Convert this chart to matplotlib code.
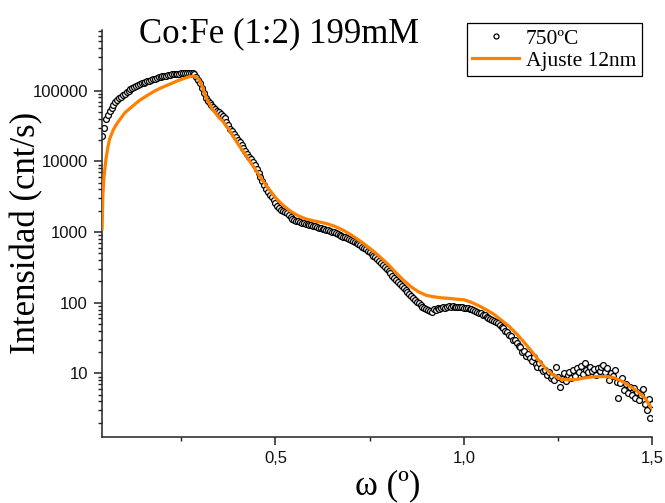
"""Reflectividad de rayos X: Co:Fe (1:2) 199mM con ajuste de 12 nm."""

import matplotlib
matplotlib.use('Agg')
import matplotlib.pyplot as plt
import numpy as np
from matplotlib.ticker import FixedLocator, LogLocator, NullFormatter

# Medida (omega de 0.040 a 1.500 grados, paso 0.005)
scan_start = 0.040
scan_step = 0.005
counts = [
    23050, 29920, 39480, 45710, 52100, 57430, 63340, 68740, 73380, 78300,
    82220, 86370, 90700, 95240, 100000, 105000, 109200, 112800, 116600, 119700,
    123200, 126500, 129800, 132800, 135400, 138500, 141800, 145000, 147900, 150800,
    153300, 156400, 158900, 161000, 163100, 165200, 167400, 169000, 170700, 171800,
    173000, 174100, 175300, 176400, 177000, 177600, 177600, 177600, 177000, 174100,
    155300, 143200, 127700, 110300, 92180, 79600, 72190, 66520, 62100, 58300,
    54900, 51900, 49200, 46500, 43700, 40300, 36380, 32460, 28950, 26700,
    24200, 22300, 20230, 18650, 17190, 15580, 14130, 12810, 11620, 10710,
    9870, 8810, 7860, 6896, 6050, 5313, 4662, 4092, 3650, 3365,
    3152, 2858, 2550, 2312, 2166, 2063, 1965, 1901, 1841, 1724,
    1616, 1538, 1489, 1441, 1418, 1395, 1359, 1337, 1315, 1294,
    1273, 1244, 1224, 1204, 1177, 1154, 1136, 1110, 1092, 1074,
    1054, 1030, 1006, 990, 974, 943, 913, 884, 861, 841,
    814, 788, 763, 738, 715, 692, 669, 648, 617, 588,
    569, 542, 516, 491, 460, 438, 417, 391, 366, 343,
    321, 301, 282, 260, 240, 224, 210, 197, 185, 173,
    162, 152, 142, 133, 123, 117, 110, 103, 98, 93,
    87.2, 84.4, 81.7, 79.1, 76.6, 74.1, 80.4, 79.1, 83.0, 80.4,
    84.4, 85.8, 83.0, 87.2, 88.6, 87.2, 88.6, 87.2, 87.8, 87.2,
    85.8, 86.6, 84.4, 84.4, 83.0, 80.4, 80.4, 77.8, 75.4, 74.1,
    71.7, 70.6, 67.2, 66.1, 62.9, 59.9, 58.9, 56.2, 55.2, 52.6,
    50.9, 48.5, 45.4, 43.3, 39.9, 38.6, 35.0, 33.9, 29.7, 29.2,
    26.9, 24.4, 23.7, 20.1, 20.8, 17.6, 18.8, 16.5, 15.0, 17.1,
    13.6, 12.3, 14.0, 11.9, 10.8, 11.2, 9.5, 10.5, 8.6, 9.2,
    8.1, 12.5, 8.9, 6.5, 8.3, 10.1, 7.8, 9.5, 10.6, 8.6,
    11.2, 9.2, 11.9, 10.5, 12.7, 9.8, 13.8, 11.2, 10.5, 12.3,
    10.8, 11.5, 9.5, 11.9, 10.8, 12.3, 13.2, 10.5, 11.9, 8.1,
    10.1, 9.2, 11.2, 7.6, 4.5, 7.3, 8.6, 5.8, 7.1, 5.3,
    6.4, 4.9, 6.2, 4.5, 5.5, 4.2, 4.9, 6.0, 3.7, 3.0,
    4.3, 2.3, 3.7,
]

# Ajuste 12nm
fit_x = [
    0.040, 0.042, 0.045, 0.050, 0.055, 0.060, 0.070, 0.080, 0.090, 0.100,
    0.110, 0.120, 0.140, 0.160, 0.180, 0.200, 0.220, 0.240, 0.260, 0.270,
    0.280, 0.285, 0.290, 0.295, 0.300, 0.305, 0.310, 0.315, 0.320, 0.330,
    0.340, 0.350, 0.360, 0.370, 0.380, 0.390, 0.400,
    0.42, 0.44, 0.46, 0.48, 0.50, 0.52, 0.54, 0.56, 0.58, 0.60,
    0.62, 0.64, 0.66, 0.68, 0.70, 0.72, 0.74, 0.76, 0.78, 0.80,
    0.82, 0.84, 0.86, 0.88, 0.90, 0.92, 0.94, 0.96, 0.98, 1.00,
    1.02, 1.04, 1.06, 1.08, 1.10, 1.12, 1.14, 1.16, 1.18, 1.20,
    1.22, 1.24, 1.26, 1.28, 1.30, 1.32, 1.34, 1.36, 1.38, 1.40,
    1.42, 1.44, 1.46, 1.48, 1.50,
]
fit_y = [
    1110, 3365, 6050, 10540, 15600, 20700, 28120, 34650, 40920, 48310,
    53810, 59740, 73110, 85500, 99000, 111500, 123600, 137500, 150400, 156400,
    159500, 159500, 155300, 147900, 134100, 115800, 96800, 82200, 72200, 57400,
    48800, 41460, 36980, 31430, 26260, 21600, 17760,
    12400, 8660, 5955, 4227, 3051, 2389, 1965, 1696, 1538, 1441,
    1372, 1294, 1185, 1057, 913, 775, 648, 533, 431, 343,
    264, 207, 167, 142, 127, 121, 117, 115, 112, 110,
    101, 90.1, 79.1, 68.3, 56.2, 46.2, 36.1, 27.4, 20.4, 15.0,
    11.2, 9.2, 8.2, 8.1, 8.2, 8.6, 8.9, 9.0, 9.0, 8.6,
    7.7, 6.6, 5.6, 4.5, 3.1,
]

y_ticks = [10, 100, 1000, 10000, 100000]
y_labels = ['10', '100', '1000', '10000', '100000']
x_ticks = [0.5, 1.0, 1.5]
x_labels = ['0,5', '1,0', '1,5']
x_minor = [0.25, 0.75, 1.25]


def main():
    """Dibuja la curva de reflectividad y su ajuste."""

    serif = 'Liberation Serif'
    sans = 'Liberation Sans'
    orange = '#ff8000'

    # Input
    omega = scan_start + scan_step * np.arange(len(counts))

    # Figura
    fig = plt.figure(figsize=(6.65, 5.03), dpi=100)
    axes = fig.add_axes([0.153, 0.1318, 0.828, 0.8086])
    axes.set_yscale('log')
    axes.set_xlim(0.039, 1.5)
    axes.set_ylim(1.27, 7.2e5)

    # Plot
    axes.plot(omega, counts, linestyle='none', marker='o', markersize=4.2,
              markerfacecolor='white', markeredgecolor='black',
              markeredgewidth=0.9, label='750ºC', zorder=2)
    axes.plot(fit_x, fit_y, color=orange, linewidth=2.3,
              label='Ajuste 12nm', zorder=3)

    # Ejes
    for side in ('top', 'right'):
        axes.spines[side].set_visible(False)
    for side in ('left', 'bottom'):
        axes.spines[side].set_linewidth(1.1)
        axes.spines[side].set_color('#222222')

    axes.yaxis.set_major_locator(FixedLocator(y_ticks))
    axes.set_yticklabels(y_labels)
    axes.yaxis.set_minor_locator(LogLocator(base=10, subs=np.arange(2, 10)))
    axes.yaxis.set_minor_formatter(NullFormatter())
    axes.set_xticks(x_ticks)
    axes.set_xticklabels(x_labels)
    axes.set_xticks(x_minor, minor=True)

    axes.tick_params(which='major', direction='out', length=5.5, width=1.1,
                     color='#222222', pad=4.5, labelsize=12,
                     labelcolor='#111111')
    axes.tick_params(which='minor', direction='out', length=3.2, width=1.0,
                     color='#222222')
    for lab in axes.get_xticklabels() + axes.get_yticklabels():
        lab.set_fontfamily(sans)

    # Textos
    fig.text(279 / 665, 1 - 42.3 / 503, 'Co:Fe (1:2) 199mM', family=serif,
             fontsize=25, ha='center', va='baseline')
    fig.text(27 / 665, 0.536, 'Intensidad (cnt/s)', family=serif,
             fontsize=25, rotation=90, ha='center', va='center')
    fig.text(387.5 / 665, 1 - 494 / 503, 'ω (º)', family=serif,
             fontsize=25, ha='center', va='baseline')

    legend = axes.legend(loc='upper right',
                         bbox_to_anchor=(641.7 / 665, 1 - 23.3 / 503),
                         bbox_transform=fig.transFigure,
                         prop={'family': serif, 'size': 15.5},
                         frameon=True, fancybox=False, framealpha=1,
                         edgecolor='black', borderpad=0.25,
                         labelspacing=0.1, handlelength=2.2,
                         handletextpad=0.3, borderaxespad=0, numpoints=1,
                         markerscale=0.85)
    legend.get_frame().set_linewidth(0.9)

    # Save
    fig.savefig('out.png', dpi=100)
    plt.close(fig)


if __name__ == '__main__':
    main()
